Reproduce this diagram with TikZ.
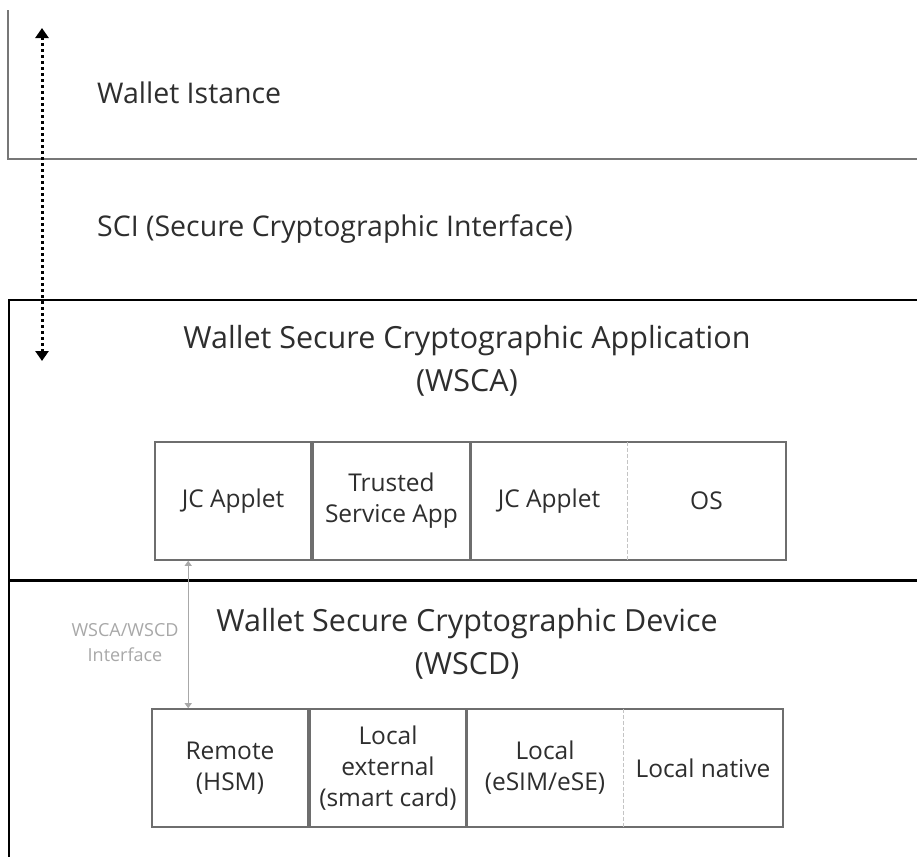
\documentclass[tikz,border=0pt]{standalone}
\usepackage{fontspec}
\setmainfont{Open Sans}
\usetikzlibrary{arrows.meta}
\definecolor{txt}{HTML}{2E2E2E}
\definecolor{frame}{HTML}{777777}
\definecolor{boxgray}{HTML}{6E6E6E}
\definecolor{sepgray}{HTML}{C4C4C4}
\definecolor{ifgray}{HTML}{A8A8A8}
\tikzset{
  label/.style={text=txt, font=\fontsize{28.5}{34}\selectfont, inner sep=0pt},
  title/.style={text=txt, font=\fontsize{30.5}{43}\selectfont, align=center, inner sep=0pt},
  cell/.style={text=txt, font=\fontsize{24.5}{33}\selectfont, align=center, inner sep=0pt,
               minimum height=118pt},
  boxline/.style={draw=boxgray, line width=1.6pt},
  sep/.style={draw=sepgray, line width=1.2pt, dash pattern=on 4pt off 2pt},
  region/.style={draw=frame, line width=2pt},
  layer/.style={draw=black, line width=1.5pt},
  sciarrow/.style={line width=3pt, dash pattern=on 3pt off 3pt,
                   {Triangle[length=10pt,width=13pt]}-{Triangle[length=10pt,width=13pt]}},
  ifarrow/.style={draw=ifgray, line width=1pt,
                  {Triangle[length=5pt,width=7pt]}-{Triangle[length=5pt,width=7pt]}},
  iftext/.style={text=ifgray, font=\fontsize{18}{25}\selectfont, align=center, inner sep=0pt}
}
\begin{document}
\begin{tikzpicture}[x=1pt,y=-1pt]
\useasboundingbox[fill=white] (0,0) rectangle (917,857);

% Wallet instance layer
\draw[region] (8,10) -- (8,159) -- (917,159);
\node[label, anchor=west] (wi) at (97,93) {Wallet Istance};

% Secure cryptographic interface
\node[label, anchor=west] (sci) at (97,229) {SCI (Secure Cryptographic Interface)};
\coordinate (sciTop) at (42,28);
\coordinate (sciBot) at (42,361);
\draw[sciarrow] (sciTop) -- (sciBot);

% WSCA / WSCD layers
\draw[layer] (917,300) -- (9,300) -- (9,857);
\draw[draw=black, line width=3pt] (9,580) -- (917,580);

\node[title] (wscaT) at (467,361) {Wallet Secure Cryptographic Application\\(WSCA)};
\node[title] (wscdT) at (467,644) {Wallet Secure Cryptographic Device\\(WSCD)};

% WSCA components
\node[cell, boxline, minimum width=156pt] (jc1) at (233,501) {JC Applet};
\node[cell, boxline, minimum width=157pt] (tsa) at (391.5,501) {Trusted\\[-2pt]Service App};
\node[cell, minimum width=156pt] (jc2) at (549,501) {JC Applet};
\node[cell, minimum width=159pt] (os) at (706.5,501) {OS};
\draw[boxline] (jc2.north west) rectangle (os.south east);
\draw[sep] (jc2.north east) -- (jc2.south east);

% WSCD components
\node[cell, boxline, minimum width=156pt] (rem) at (230,768) {Remote\\[-2pt](HSM)};
\node[cell, boxline, minimum width=156pt] (ext) at (388,768) {Local\\[-2pt]external\\[-2pt](smart card)};
\node[cell, minimum width=156pt] (esim) at (545,768) {Local\\[-2pt](eSIM/eSE)};
\node[cell, minimum width=160pt] (nat) at (703,768) {Local native};
\draw[boxline] (esim.north west) rectangle (nat.south east);
\draw[sep] (esim.north east) -- (esim.south east);

% WSCA/WSCD interface
\draw[ifarrow] ([xshift=34pt]jc1.south west) -- ([xshift=37pt]rem.north west);
\node[iftext] (ift) at (125,643) {WSCA/WSCD\\Interface};
\end{tikzpicture}
\end{document}
